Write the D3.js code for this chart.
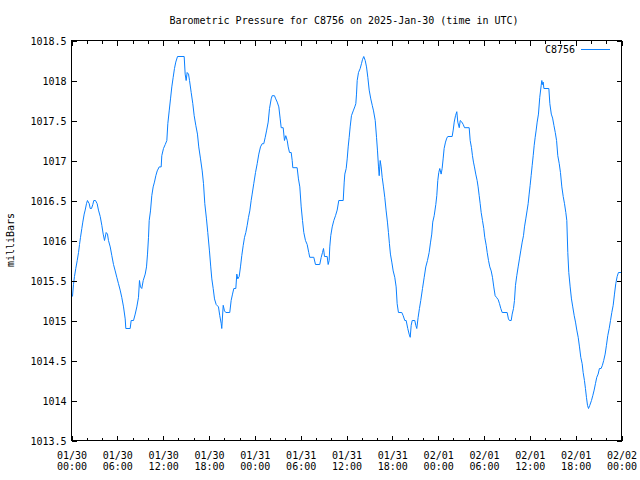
<!DOCTYPE html>
<html>
<head>
<meta charset="utf-8">
<script src="https://cdn.jsdelivr.net/npm/d3@7"></script>
<style>
  html, body { margin: 0; padding: 0; background: #fff; }
  svg { display: block; }
  text { font-family: "DejaVu Sans Mono", monospace; font-size: 10px; fill: #000; }
</style>
</head>
<body>
<svg id="chart" width="640" height="480"></svg>
<script>
// ---- data ----
const title = "Barometric Pressure for C8756 on 2025-Jan-30 (time in UTC)";
const seriesName = "C8756";
const yLabel = "milliBars";
const startTime = "2025-01-30T00:00:00Z";
const endTime = "2025-02-02T00:00:00Z";
const yTicks = [1013.5, 1014, 1014.5, 1015, 1015.5, 1016, 1016.5, 1017, 1017.5, 1018, 1018.5];

// hours since 2025-01-30 00:00 UTC
const hours = [
  0.13,0.26,0.39,0.56,0.75,0.92,1.05,1.18,1.35,1.48,1.66,1.79,1.96,2.09,2.32,2.45,2.62,2.79,2.92,3.14,
  3.36,3.53,3.76,3.97,4.15,4.32,4.54,4.71,4.84,5.07,5.28,5.50,5.72,5.93,6.15,6.37,6.58,6.81,7.03,7.11,
  7.68,7.81,8.12,8.34,8.55,8.77,8.90,9.03,9.20,9.39,9.65,9.82,9.95,10.08,10.17,10.34,10.51,10.69,10.86,11.04,
  11.22,11.48,11.74,11.82,12.04,12.27,12.48,12.61,12.79,12.96,13.13,13.31,13.48,13.65,13.88,14.75,14.88,15.01,15.14,15.32,
  15.45,15.67,15.88,16.06,16.27,16.49,16.66,16.89,17.11,17.28,17.45,17.67,17.84,18.06,18.23,18.37,18.55,18.72,18.94,19.24,
  19.41,19.60,19.67,19.86,20.03,20.20,20.72,20.90,21.08,21.25,21.51,21.64,21.77,21.95,22.12,22.29,22.48,22.65,22.82,23.00,
  23.17,23.34,23.52,23.65,23.86,24.09,24.31,24.52,24.74,24.96,25.17,25.36,25.53,25.75,25.92,26.14,26.27,26.57,26.74,26.93,
  27.14,27.32,27.45,27.71,27.88,28.05,28.24,28.37,28.54,28.76,28.89,28.97,29.54,29.71,29.89,30.07,30.24,30.41,30.63,30.85,
  31.06,31.19,31.72,31.94,32.50,32.69,32.86,32.99,33.12,33.47,33.60,33.73,33.81,33.94,34.13,34.34,34.56,34.78,34.99,35.57,
  35.70,35.78,35.96,36.09,36.22,36.35,36.48,36.65,36.88,37.08,37.22,37.31,37.40,37.57,37.79,37.96,38.09,38.26,38.45,38.62,
  38.79,38.97,39.18,39.37,39.54,39.76,39.93,40.06,40.19,40.28,40.41,40.54,40.67,40.84,41.01,41.19,41.36,41.49,41.62,41.75,
  41.93,42.11,42.32,42.50,42.63,42.80,43.24,43.42,43.63,43.81,44.02,44.20,44.34,44.47,44.60,44.94,45.07,45.20,45.38,45.55,
  45.72,45.95,46.17,46.38,46.60,46.82,46.99,47.16,47.29,47.48,47.69,47.82,47.95,48.08,48.21,48.39,48.52,48.65,48.78,48.96,
  49.13,49.26,49.83,49.97,50.10,50.27,50.44,50.57,50.76,50.89,51.10,51.28,51.45,52.06,52.19,52.36,52.49,52.62,52.75,52.92,
  53.10,53.23,53.37,53.50,53.63,53.80,53.97,54.10,54.29,54.42,54.59,54.76,54.94,55.11,55.28,55.46,55.63,55.86,56.03,56.20,
  56.38,57.03,57.20,57.33,57.56,57.69,57.86,57.99,58.12,58.29,58.47,58.64,58.81,59.00,59.17,59.30,59.47,59.65,59.78,59.91,
  60.04,60.17,60.31,60.44,60.57,60.70,60.83,60.96,61.13,61.30,61.49,61.57,61.66,61.75,61.84,62.49,62.62,62.81,62.98,63.15,
  63.33,63.50,63.66,63.85,64.01,64.19,64.37,64.54,64.71,64.84,64.97,65.10,65.28,65.45,65.62,65.81,65.98,66.15,66.33,66.50,
  66.67,66.85,66.98,67.15,67.28,67.41,67.55,67.68,67.85,68.07,68.24,68.42,68.59,68.76,68.94,69.11,69.33,69.50,69.67,69.86,
  70.03,70.20,70.39,70.56,70.73,70.91,71.08,71.25,71.43,71.60,71.96
];
const pressure = [
  1015.30,1015.45,1015.55,1015.65,1015.75,1015.85,1015.95,1016.04,1016.15,1016.23,1016.33,1016.38,1016.46,1016.50,1016.46,1016.40,1016.40,1016.45,1016.50,1016.50,
  1016.46,1016.38,1016.30,1016.19,1016.08,1016.00,1016.10,1016.08,1016.00,1015.92,1015.81,1015.70,1015.62,1015.54,1015.46,1015.38,1015.29,1015.17,1015.02,1014.90,
  1014.90,1015.00,1015.00,1015.08,1015.17,1015.29,1015.50,1015.42,1015.40,1015.50,1015.58,1015.67,1015.83,1016.04,1016.25,1016.37,1016.56,1016.67,1016.73,1016.81,
  1016.87,1016.92,1016.92,1017.06,1017.15,1017.20,1017.25,1017.46,1017.62,1017.77,1017.92,1018.04,1018.15,1018.23,1018.30,1018.30,1018.08,1018.00,1018.10,1018.08,
  1018.00,1017.85,1017.71,1017.56,1017.44,1017.33,1017.17,1017.02,1016.87,1016.71,1016.46,1016.27,1016.10,1015.87,1015.67,1015.52,1015.40,1015.27,1015.20,1015.17,
  1015.06,1014.96,1014.90,1015.19,1015.12,1015.10,1015.10,1015.25,1015.33,1015.40,1015.40,1015.58,1015.52,1015.55,1015.67,1015.81,1015.94,1016.04,1016.10,1016.19,
  1016.29,1016.37,1016.50,1016.58,1016.71,1016.85,1016.96,1017.08,1017.17,1017.21,1017.21,1017.29,1017.37,1017.48,1017.65,1017.77,1017.81,1017.81,1017.77,1017.73,
  1017.67,1017.52,1017.41,1017.41,1017.25,1017.31,1017.25,1017.17,1017.10,1017.10,1017.00,1016.91,1016.91,1016.77,1016.67,1016.42,1016.25,1016.10,1016.00,1015.95,
  1015.85,1015.79,1015.79,1015.70,1015.70,1015.79,1015.85,1015.90,1015.80,1015.80,1015.70,1015.75,1015.92,1016.06,1016.17,1016.25,1016.31,1016.38,1016.50,1016.50,
  1016.73,1016.83,1016.90,1017.02,1017.17,1017.29,1017.42,1017.56,1017.62,1017.67,1017.71,1017.83,1018.00,1018.10,1018.15,1018.21,1018.26,1018.30,1018.25,1018.17,
  1018.04,1017.88,1017.77,1017.69,1017.62,1017.50,1017.29,1017.12,1016.92,1016.81,1017.00,1016.92,1016.79,1016.67,1016.54,1016.37,1016.23,1016.10,1015.96,1015.83,
  1015.73,1015.62,1015.54,1015.42,1015.21,1015.10,1015.10,1015.06,1015.00,1015.00,1014.90,1014.83,1014.79,1014.94,1015.00,1015.00,1014.94,1014.90,1015.04,1015.15,
  1015.25,1015.40,1015.54,1015.67,1015.75,1015.85,1015.97,1016.08,1016.23,1016.31,1016.45,1016.56,1016.75,1016.85,1016.90,1016.83,1016.90,1017.02,1017.15,1017.23,
  1017.28,1017.30,1017.30,1017.38,1017.48,1017.56,1017.61,1017.48,1017.41,1017.50,1017.48,1017.45,1017.41,1017.41,1017.25,1017.16,1017.06,1016.98,1016.92,1016.83,
  1016.75,1016.67,1016.56,1016.46,1016.35,1016.25,1016.15,1016.04,1015.94,1015.85,1015.75,1015.67,1015.62,1015.54,1015.42,1015.31,1015.29,1015.26,1015.21,1015.15,
  1015.10,1015.10,1015.02,1015.00,1015.00,1015.08,1015.15,1015.25,1015.44,1015.56,1015.67,1015.77,1015.87,1015.98,1016.06,1016.17,1016.27,1016.38,1016.46,1016.58,
  1016.69,1016.81,1016.94,1017.06,1017.19,1017.29,1017.38,1017.48,1017.58,1017.79,1017.94,1018.00,1017.95,1017.98,1017.90,1017.90,1017.71,1017.58,1017.53,1017.44,
  1017.35,1017.25,1017.06,1016.96,1016.85,1016.67,1016.55,1016.46,1016.35,1016.25,1015.85,1015.60,1015.42,1015.27,1015.17,1015.06,1014.98,1014.88,1014.79,1014.67,
  1014.54,1014.46,1014.35,1014.25,1014.15,1014.04,1013.94,1013.90,1013.94,1014.00,1014.06,1014.13,1014.21,1014.29,1014.33,1014.40,1014.40,1014.44,1014.50,1014.58,
  1014.69,1014.81,1014.90,1015.00,1015.10,1015.19,1015.33,1015.46,1015.55,1015.60,1015.60
];

// ---- chart ----
const W = 640, H = 480;
const margin = {left: 71, right: 19, top: 40, bottom: 40};
const svg = d3.select("#chart");
const t0 = new Date(startTime), t1 = new Date(endTime);
const HOUR = 3600 * 1000;
const data = hours.map((h, i) => ({t: new Date(t0.getTime() + h * HOUR), v: pressure[i]}));

const x = d3.scaleUtc().domain([t0, t1]).range([margin.left, W - margin.right]);
const y = d3.scaleLinear().domain([yTicks[0], yTicks[yTicks.length - 1]]).range([H - margin.bottom, margin.top]);

const majorTicks = d3.utcHour.every(6).range(t0, new Date(t1.getTime() + 1));
const minorTicks = d3.utcHour.every(2).range(t0, new Date(t1.getTime() + 1))
  .filter(d => d.getUTCHours() % 6 !== 0);

const g = svg.append("g").attr("transform", "translate(0.5,0.5)");

// line
const line = d3.line().x(d => x(d.t)).y(d => y(d.v)).curve(d3.curveLinear);
g.append("path").datum(data)
  .attr("fill", "none").attr("stroke", "#0a80ff").attr("stroke-width", 1)
  .attr("d", line);

// axes
const fmtY = d => (Math.round(d * 10) % 10 === 0) ? d3.format("d")(d) : d3.format(".1f")(d);
const fmtDate = d3.utcFormat("%m/%d"), fmtTime = d3.utcFormat("%H:%M");

function styleAxis(sel) {
  sel.select(".domain").remove();
  sel.selectAll(".tick line").attr("stroke", "#000").attr("shape-rendering", "crispEdges");
}

const axBottom = g.append("g").attr("transform", `translate(0,${H - margin.bottom})`)
  .call(d3.axisBottom(x).tickValues(majorTicks).tickSize(-5).tickPadding(12).tickFormat(() => ""));
styleAxis(axBottom);
axBottom.selectAll(".tick text").each(function(d) {
  const t = d3.select(this).attr("y", null).attr("dy", null);
  t.append("tspan").attr("x", 0).attr("y", 18).text(fmtDate(d));
  t.append("tspan").attr("x", 0).attr("y", 29).text(fmtTime(d));
});
axBottom.selectAll(".tick text").attr("font-family", null).attr("font-size", null).attr("fill", null);
axBottom.attr("font-family", null).attr("font-size", null);

const axBottomMinor = g.append("g").attr("transform", `translate(0,${H - margin.bottom})`)
  .call(d3.axisBottom(x).tickValues(minorTicks).tickSize(-3).tickFormat(() => ""));
styleAxis(axBottomMinor);

const axTop = g.append("g").attr("transform", `translate(0,${margin.top})`)
  .call(d3.axisTop(x).tickValues(majorTicks).tickSize(-5).tickFormat(() => ""));
styleAxis(axTop);
const axTopMinor = g.append("g").attr("transform", `translate(0,${margin.top})`)
  .call(d3.axisTop(x).tickValues(minorTicks).tickSize(-3).tickFormat(() => ""));
styleAxis(axTopMinor);

const axLeft = g.append("g").attr("transform", `translate(${margin.left},0)`)
  .call(d3.axisLeft(y).tickValues(yTicks).tickSize(-5).tickPadding(5).tickFormat(fmtY));
styleAxis(axLeft);
axLeft.attr("font-family", null).attr("font-size", null);
axLeft.selectAll(".tick text").attr("fill", null).attr("dy", "0.35em");

const axRight = g.append("g").attr("transform", `translate(${W - margin.right},0)`)
  .call(d3.axisRight(y).tickValues(yTicks).tickSize(-5).tickFormat(() => ""));
styleAxis(axRight);

// frame
g.append("rect")
  .attr("x", margin.left).attr("y", margin.top)
  .attr("width", W - margin.left - margin.right).attr("height", H - margin.top - margin.bottom)
  .attr("fill", "none").attr("stroke", "#000").attr("shape-rendering", "crispEdges");

// title
svg.append("text").attr("x", 344).attr("y", 24).attr("text-anchor", "middle").text(title);

// y label
svg.append("text").attr("transform", "translate(14,240) rotate(-90)")
  .attr("text-anchor", "middle").text(yLabel);

// legend
svg.append("text").attr("x", 575).attr("y", 53).attr("text-anchor", "end").text(seriesName);
svg.append("line").attr("x1", 581).attr("x2", 610).attr("y1", 49.5).attr("y2", 49.5)
  .attr("stroke", "#0a80ff").attr("stroke-width", 1);
</script>
</body>
</html>
